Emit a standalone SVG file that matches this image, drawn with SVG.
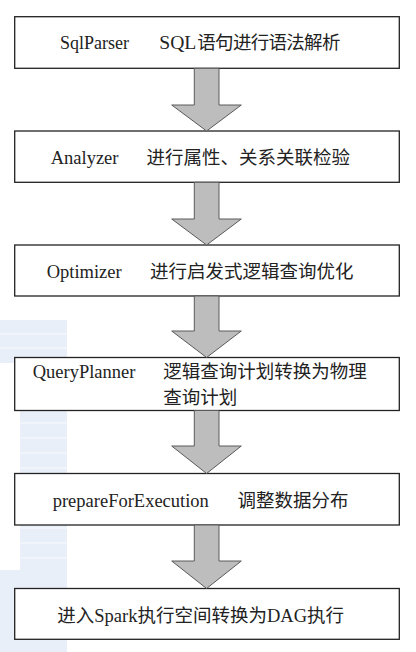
<svg xmlns="http://www.w3.org/2000/svg" width="416" height="652" viewBox="0 0 416 652">
<style>
.box{fill:#ffffff;stroke:#222222;stroke-width:1.3}
.arr{fill:#bdbdbd;stroke:#5a5a5a;stroke-width:1}
.t{font-family:"Liberation Serif","Noto Sans CJK SC",serif;font-size:18.5px;fill:#222222}
.c{font-family:"Noto Sans CJK SC","Liberation Serif",sans-serif;font-size:18.5px}
.wm{fill:#e9eff8}
.wl{stroke:#f3f6fb;stroke-width:1.5}
</style>
<rect x="0" y="0" width="416" height="652" fill="#ffffff"/>
<g id="watermark">
<rect class="wm" x="0" y="320" width="67" height="43"/>
<rect class="wm" x="20" y="363" width="47" height="207"/>
<rect class="wm" x="0" y="570" width="67" height="82"/>
<g class="wl">
<line x1="0" y1="334" x2="67" y2="334"/>
<line x1="0" y1="348" x2="67" y2="348"/>
<line x1="20" y1="378" x2="67" y2="378"/>
<line x1="20" y1="393" x2="67" y2="393"/>
<line x1="20" y1="408" x2="67" y2="408"/>
<line x1="20" y1="423" x2="67" y2="423"/>
<line x1="20" y1="438" x2="67" y2="438"/>
<line x1="20" y1="453" x2="67" y2="453"/>
<line x1="20" y1="468" x2="67" y2="468"/>
<line x1="20" y1="483" x2="67" y2="483"/>
<line x1="20" y1="498" x2="67" y2="498"/>
<line x1="20" y1="513" x2="67" y2="513"/>
<line x1="20" y1="528" x2="67" y2="528"/>
<line x1="20" y1="543" x2="67" y2="543"/>
<line x1="20" y1="558" x2="67" y2="558"/>
</g>
</g>
<g id="n1">
<rect class="box" x="14.7" y="16.7" width="384.6" height="51.6"/>
<text class="t" y="49.3"><tspan x="60" font-size="18">SqlParser </tspan><tspan x="159.3" font-size="19.6">SQL</tspan><tspan class="c" x="197.3 215.1 232.9 250.7 268.5 286.3 304.1 321.9">语句进行语法解析</tspan></text>
</g>
<g id="n2">
<rect class="box" x="14.7" y="131" width="384.6" height="51.3"/>
<text class="t" y="164"><tspan x="50.7">Analyzer </tspan><tspan class="c" x="146.6">进行属性、关系关联检验</tspan></text>
</g>
<g id="n3">
<rect class="box" x="14.7" y="245" width="384.6" height="51"/>
<text class="t" y="278"><tspan x="46.7">Optimizer </tspan><tspan class="c" x="150">进行启发式逻辑查询优化</tspan></text>
</g>
<g id="n4">
<rect class="box" x="14.7" y="357.5" width="384.6" height="53"/>
<text class="t" y="378"><tspan x="32.7">QueryPlanner </tspan><tspan class="c" x="163.3">逻辑查询计划转换为物理</tspan></text>
<text class="t" y="404"><tspan class="c" x="163.3">查询计划</tspan></text>
</g>
<g id="n5">
<rect class="box" x="14.7" y="473.5" width="384.6" height="51.5"/>
<text class="t" y="506.5"><tspan x="52.7">prepareForExecution </tspan><tspan class="c" x="237.6">调整数据分布</tspan></text>
</g>
<g id="n6">
<rect class="box" x="14.7" y="588.5" width="384.6" height="50.8"/>
<text class="t" x="57.3" y="621.5">进入Spark执行空间转换为DAG执行</text>
</g>
<g id="connectors">
<path class="arr" d="M194.3,68.3 L219,68.3 L219,105 L241.3,105 L206.6,131 L171.7,105 L194.3,105 Z"/>
<path class="arr" d="M194.3,182.3 L219,182.3 L219,219 L241.3,219 L206.6,245 L171.7,219 L194.3,219 Z"/>
<path class="arr" d="M194.3,296 L219,296 L219,331 L241.3,331 L206.6,357.5 L171.7,331 L194.3,331 Z"/>
<path class="arr" d="M194.3,410.5 L219,410.5 L219,446 L241.3,446 L206.6,473.5 L171.7,446 L194.3,446 Z"/>
<path class="arr" d="M194.3,525 L219,525 L219,561 L241.3,561 L206.6,588.5 L171.7,561 L194.3,561 Z"/>
</g>
</svg>
